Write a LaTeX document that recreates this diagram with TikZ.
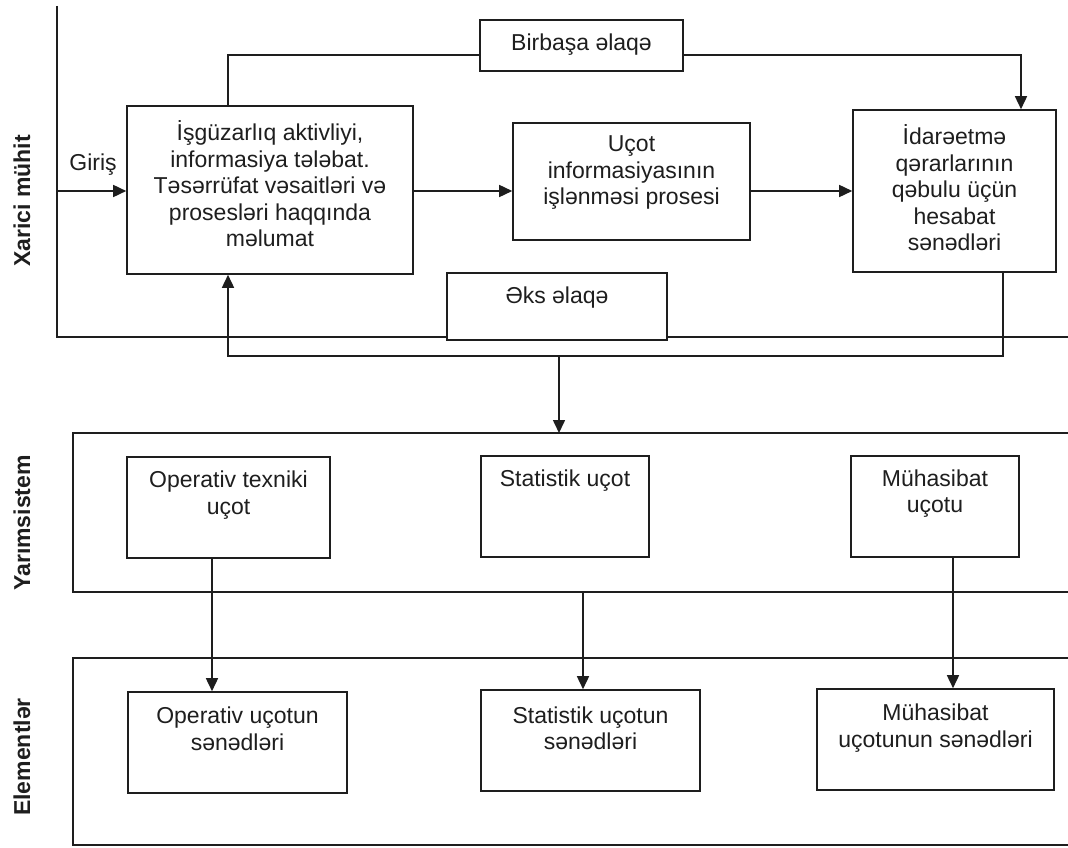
\documentclass[tikz,border=0pt]{standalone}
\usepackage{fontspec}
\setmainfont{Liberation Sans}
\usetikzlibrary{arrows.meta}
\definecolor{ink}{RGB}{30,30,30}
\begin{document}
\begin{tikzpicture}[x=1pt,y=-1pt,
  ln/.style={draw=ink, line width=1.6pt},
  arr/.style={-{Triangle[length=13pt,width=12pt]}},
  box/.style={draw=ink, line width=1.6pt, rectangle, inner sep=0pt, fill=none},
  txt/.style={font=\fontsize{23}{26.5}\selectfont, align=center, inner sep=0pt, text=ink},
  lab/.style={font=\fontsize{23}{26.5}\selectfont\bfseries, inner sep=0pt, text=ink, rotate=90}]
\useasboundingbox (0,0) rectangle (1068,848);
\fill[white] (0,0) rectangle (1068,848);

% side labels
\node[lab] (lx) at (22,201) {Xarici mühit};
\node[lab] (ly) at (22,523) {Yarımsistem};
\node[lab] (le) at (22,757) {Elementlər};

% top boxes
\node[box, minimum width=286pt, minimum height=168pt] (mainb) at (270,190) {};
\node[txt] (maint) at (270,184) {İşgüzarlıq aktivliyi,\\informasiya tələbat.\\Təsərrüfat vəsaitləri və\\prosesləri haqqında\\məlumat};
\node[box, minimum width=237pt, minimum height=117pt] (ucot) at (631.5,181.5) {};
\node[txt] (ucott) at (631.5,173) {Uçot\\informasiyasının\\işlənməsi prosesi};
\node[box, minimum width=203pt, minimum height=162pt] (idare) at (954.5,191) {};
\node[txt] (idaret) at (954.5,188) {İdarəetmə\\qərarlarının\\qəbulu üçün\\hesabat\\sənədləri};
\node[box, minimum width=203pt, minimum height=51pt] (birb) at (581.5,45.5) {};
\node[txt] (birbt) at (581.5,45) {Birbaşa əlaqə};
\node[box, minimum width=220pt, minimum height=67pt] (eks) at (557,306.5) {};
\node[txt] (ekst) at (557,298) {Əks əlaqə};
\node[txt] (giris) at (93,165) {Giriş};

% outer environment line
\coordinate (ltop) at (57,6);
\coordinate (lbot) at (57,337);
\coordinate (rend) at (1068,337);
\draw[ln] (ltop) -- (lbot) -- (lbot -| eks.west);
\draw[ln] (eks.east |- rend) -- (rend);

% main flow
\coordinate (ay) at (57,191);
\draw[ln,arr] (ay) -- (ay -| mainb.west);
\draw[ln,arr] (mainb.east |- ay) -- (ucot.west |- ay);
\draw[ln,arr] (ucot.east |- ay) -- (idare.west |- ay);

% direct link
\coordinate (bl) at (228,55);
\coordinate (br) at (1021,55);
\draw[ln] (bl |- mainb.north) -- (bl) -- (bl -| birb.west);
\draw[ln,arr] (birb.east |- br) -- (br) -- (br |- idare.north);

% feedback
\coordinate (fbr) at (1003,356);
\coordinate (fbl) at (228,356);
\draw[ln,arr] (idare.south -| fbr) -- (fbr) -- (fbl) -- (fbl |- mainb.south);

% frames
\coordinate (f1tl) at (73,433);
\coordinate (f1bl) at (73,592);
\coordinate (f2tl) at (73,658);
\coordinate (f2bl) at (73,845);
\draw[ln] (1068,433) -- (f1tl) -- (f1bl) -- (1068,592);
\draw[ln] (1068,658) -- (f2tl) -- (f2bl) -- (1068,845);

\coordinate (dn) at (559,356);
\draw[ln,arr] (dn) -- (dn |- f1tl);

% subsystem boxes
\node[box, minimum width=203pt, minimum height=101pt] (op) at (228.5,507.5) {};
\node[txt] (opt) at (228.5,495) {Operativ texniki\\uçot};
\node[box, minimum width=168pt, minimum height=101pt] (stat) at (565,506.5) {};
\node[txt] (statt) at (565,481) {Statistik uçot};
\node[box, minimum width=168pt, minimum height=101pt] (muh) at (935,506.5) {};
\node[txt] (muht) at (935,493.5) {Mühasibat\\uçotu};

% element boxes
\node[box, minimum width=219pt, minimum height=101pt] (opd) at (237.5,742.5) {};
\node[txt] (opdt) at (237.5,729) {Operativ uçotun\\sənədləri};
\node[box, minimum width=219pt, minimum height=101pt] (statd) at (590.5,740.5) {};
\node[txt] (statdt) at (590.5,728.5) {Statistik uçotun\\sənədləri};
\node[box, minimum width=237pt, minimum height=101pt] (muhd) at (935.5,739.5) {};
\node[txt] (muhdt) at (935.5,728) {Mühasibat\\uçotunun sənədləri};

% subsystem to elements
\coordinate (xo) at (212,0);
\coordinate (xs) at (583,0);
\coordinate (xm) at (953,0);
\draw[ln,arr] (op.south -| xo) -- (opd.north -| xo);
\draw[ln,arr] (f1bl -| xs) -- (statd.north -| xs);
\draw[ln,arr] (muh.south -| xm) -- (muhd.north -| xm);
\end{tikzpicture}
\end{document}
